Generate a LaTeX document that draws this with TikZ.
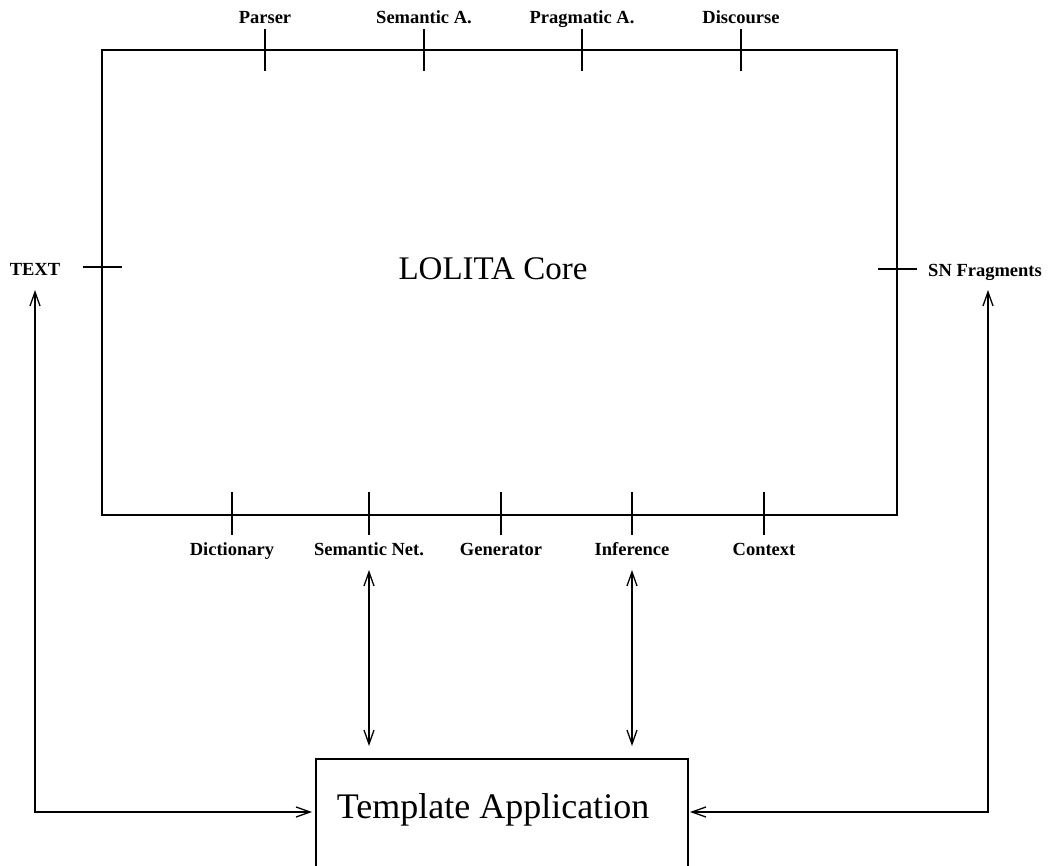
\documentclass[tikz,border=0pt]{standalone}
\usepackage{fontspec}
\setmainfont{Liberation Serif}
\usetikzlibrary{arrows.meta}
\begin{document}
\begin{tikzpicture}[x=1pt,y=-1pt,
  lbl/.style={font=\fontsize{18.5}{22}\selectfont\bfseries, inner sep=0pt, anchor=base},
  big/.style={font=\fontsize{33}{38}\selectfont, inner sep=0pt, anchor=base},
  tick/.style={line width=1.3pt},
  conn/.style={line width=1.3pt, {Straight Barb[length=14pt,width=10pt]}-{Straight Barb[length=14pt,width=10pt]}}]
\useasboundingbox (0,0) rectangle (1049,865);
\clip (0,0) rectangle (1049,865);
% main box
\node[draw, line width=1.6pt, minimum width=795pt, minimum height=465pt, anchor=north west, inner sep=0pt] (core) at (101,49) {};
\node[big] (coret) at (493,279) {LOLITA Core};
% top ticks and labels
\foreach \x/\n/\t in {265/parser/Parser, 424/sema/Semantic A., 582/prag/Pragmatic A., 741/disc/Discourse}{
  \draw[tick] (\x,29) -- (\x,71);
  \node[lbl] (\n) at (\x,23) {\t};
}
% bottom ticks and labels
\foreach \x/\n/\t in {232/dict/Dictionary, 369/semnet/Semantic Net., 501/gen/Generator, 632/inf/Inference, 764/ctx/Context}{
  \draw[tick] (\x,492) -- (\x,535);
}
\foreach \x/\n/\t in {232/dict/Dictionary, 369/semnet/Semantic Net., 501/gen/Generator, 632/inf/Inference, 764/ctx/Context}{
  \node[lbl] (\n) at (\x,555) {\t};
}
% side ticks
\draw[tick] (83,267) -- (122,267);
\draw[tick] (878,269) -- (917,269);
\node[lbl] (text) at (35,275) {TEXT};
\node[lbl] (snf) at (985,276) {SN Fragments};
% template box
\node[draw, line width=1.6pt, minimum width=372pt, minimum height=160pt, anchor=north west, inner sep=0pt] (tmpl) at (315,758) {};
\node[big, font=\fontsize{36}{40}\selectfont] (tmplt) at (493,818) {Template Application};
\coordinate (tl) at (312,812);
\coordinate (tr) at (690,812);
\coordinate (ct) at (369,746);
\coordinate (cti) at (632,746);
\coordinate (tt) at (35,290);
\coordinate (st) at (988,290);
% connectors
\draw[conn] (tt) -- (35,812) -- (tl);
\draw[conn] (st) -- (988,812) -- (tr);
\draw[conn] (semnet.south |- 0,570) -- (ct);
\draw[conn] (inf.south |- 0,570) -- (cti);
\end{tikzpicture}
\end{document}
